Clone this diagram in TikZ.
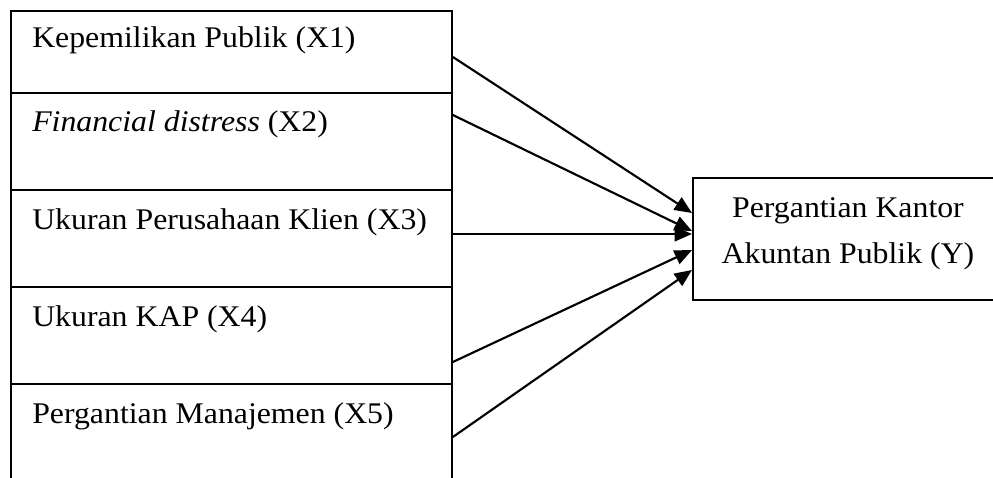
\documentclass[tikz,border=0pt]{standalone}
\usepackage{fontspec}
\setmainfont{Liberation Serif}[FakeStretch=1.06]
\usetikzlibrary{arrows.meta,calc}
\begin{document}
\begin{tikzpicture}[x=0.75pt,y=-0.75pt,
  box/.style={draw,line width=1.4pt,rectangle,inner sep=0pt,anchor=north west,minimum width=330.75pt},
  lbl/.style={inner sep=0pt,font=\fontsize{22.5}{27}\selectfont},
  arr/.style={line width=1.6pt,-{Triangle[length=13pt,width=11pt]}}]
\useasboundingbox (0,0) rectangle (993,478);
% left column boxes
\node[box,minimum height=61.5pt] (b1) at (10,10) {};
\node[box,minimum height=72.75pt] (b2) at (10,92) {};
\node[box,minimum height=72.75pt] (b3) at (10,189) {};
\node[box,minimum height=72.75pt] (b4) at (10,286) {};
\node[box,minimum height=90pt] (b5) at (10,383) {};
% labels
\node[lbl,anchor=base west] (t1) at (32,48) {Kepemilikan Publik (X1)};
\node[lbl,anchor=base west] (t2) at (32,132) {\textit{Financial distress} (X2)};
\node[lbl,anchor=base west] (t3) at (32,229) {Ukuran Perusahaan Klien (X3)};
\node[lbl,anchor=base west] (t4) at (32,326) {Ukuran KAP (X4)};
\node[lbl,anchor=base west] (t5) at (32,423) {Pergantian Manajemen (X5)};
% right box
\node[draw,line width=1.4pt,rectangle,inner sep=0pt,anchor=north west,minimum width=240pt,minimum height=91.5pt] (R) at (692,177) {};
\node[lbl,anchor=base] (r1) at (848,217) {Pergantian Kantor};
\node[lbl,anchor=base] (r2) at (848,263) {Akuntan Publik (Y)};
% arrow end points
\coordinate (s1) at ($(b1.north east)+(0,47)$);
\coordinate (s2) at ($(b2.north east)+(0,23)$);
\coordinate (s3) at ($(b3.north east)+(0,45)$);
\coordinate (s4) at ($(b4.north east)+(0,76)$);
\coordinate (s5) at ($(b5.north east)+(0,54)$);
\coordinate (e1) at ($(R.north west)+(0,36)$);
\coordinate (e2) at ($(R.north west)+(0,54)$);
\coordinate (e3) at ($(R.north west)+(0,57)$);
\coordinate (e4) at ($(R.north west)+(0,73)$);
\coordinate (e5) at ($(R.north west)+(0,93)$);
\draw[arr] (s1) -- (e1);
\draw[arr] (s2) -- (e2);
\draw[arr] (s3) -- (e3);
\draw[arr] (s4) -- (e4);
\draw[arr] (s5) -- (e5);
\end{tikzpicture}
\end{document}
